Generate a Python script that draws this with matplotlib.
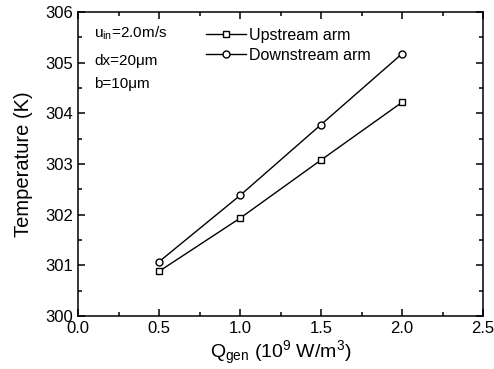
import matplotlib
matplotlib.use("Agg")
import matplotlib.pyplot as plt
from matplotlib.ticker import MultipleLocator, FormatStrFormatter

plt.rcParams['font.family'] = ['Liberation Sans', 'DejaVu Sans']
plt.rcParams['mathtext.fontset'] = 'custom'
plt.rcParams['mathtext.rm'] = 'Liberation Sans'
plt.rcParams['mathtext.it'] = 'Liberation Sans'

q_gen = [0.5, 1.0, 1.5, 2.0]
upstream = [300.88, 301.93, 303.08, 304.22]
downstream = [301.07, 302.38, 303.78, 305.18]

fig = plt.figure(figsize=(4.94, 3.69), dpi=100)
ax = fig.add_axes([0.158, 0.144, 0.820, 0.823])

ax.plot(q_gen, upstream, color="black", lw=1, marker="s", ms=5,
        mfc="white", mec="black", mew=1, label="Upstream arm")
ax.plot(q_gen, downstream, color="black", lw=1, marker="o", ms=5,
        mfc="white", mec="black", mew=1, label="Downstream arm")

ax.set_xlim(0, 2.5)
ax.set_ylim(300, 306)
ax.xaxis.set_major_locator(MultipleLocator(0.5))
ax.xaxis.set_minor_locator(MultipleLocator(0.25))
ax.xaxis.set_major_formatter(FormatStrFormatter("%.1f"))
ax.yaxis.set_major_locator(MultipleLocator(1))
ax.yaxis.set_minor_locator(MultipleLocator(0.5))
ax.tick_params(which="both", direction="in", top=True, right=True,
               labelsize=12, width=1.1)
ax.tick_params(which="major", length=5)
ax.tick_params(which="minor", length=3)
for s in ax.spines.values():
    s.set_linewidth(1.1)

ax.set_xlabel(r"Q$_{\rm gen}$ (10$^9$ W/m$^3$)", fontsize=14, labelpad=2)
ax.set_ylabel("Temperature (K)", fontsize=14.5, labelpad=9)

ax.text(0.04, 0.93, r"u$_{\rm in}$=2.0m/s", transform=ax.transAxes, fontsize=11, va="center")
ax.text(0.04, 0.84, "dx=20\u03bcm", transform=ax.transAxes, fontsize=11, va="center")
ax.text(0.04, 0.765, "b=10\u03bcm", transform=ax.transAxes, fontsize=11, va="center")

ax.legend(loc="upper left", bbox_to_anchor=(0.28, 0.995), frameon=False,
          fontsize=11.5, handlelength=2.5, handletextpad=0.2, labelspacing=0.3)

fig.savefig("out.png", dpi=100)
